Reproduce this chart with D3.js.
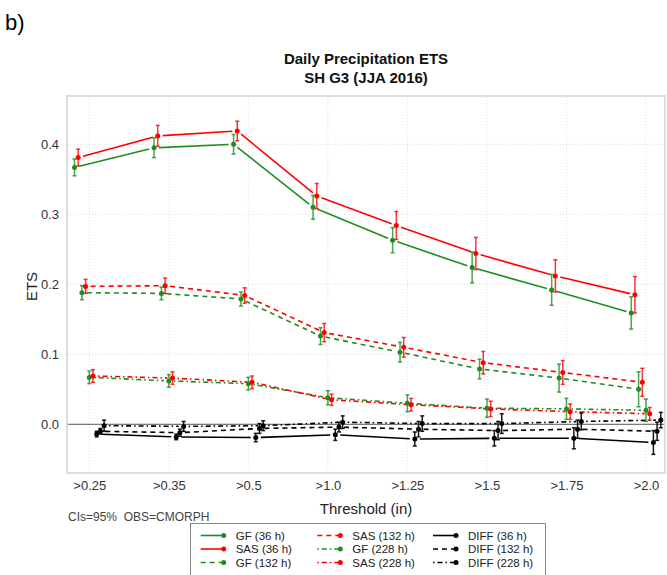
<!DOCTYPE html>
<html>
<head>
<meta charset="utf-8">
<script src="https://cdn.jsdelivr.net/npm/d3@7"></script>
<style>
  html, body { margin: 0; padding: 0; background: #fff; }
  svg { display: block; font-family: "Liberation Sans", Arial, Helvetica, sans-serif; }
</style>
</head>
<body>
<svg id="chart" width="667" height="575"></svg>
<script>
// Thresholds (in)
const categories = [">0.25", ">0.35", ">0.5", ">1.0", ">1.25", ">1.5", ">1.75", ">2.0"];
const yTicks = [0.0, 0.1, 0.2, 0.3, 0.4];

// ETS per threshold
const gf36    = [0.367, 0.395, 0.400, 0.310, 0.263, 0.224, 0.192, 0.159];
const sas36   = [0.381, 0.412, 0.419, 0.326, 0.284, 0.244, 0.212, 0.185];
const gf132   = [0.188, 0.187, 0.179, 0.126, 0.103, 0.079, 0.066, 0.050];
const sas132  = [0.197, 0.198, 0.184, 0.131, 0.110, 0.088, 0.074, 0.060];
const gf228   = [0.067, 0.062, 0.058, 0.038, 0.030, 0.023, 0.022, 0.020];
const sas228  = [0.069, 0.066, 0.060, 0.035, 0.028, 0.022, 0.018, 0.015];
const diff36  = [-0.014, -0.018, -0.019, -0.015, -0.021, -0.020, -0.020, -0.026];
const diff132 = [-0.010, -0.012, -0.006, -0.004, -0.007, -0.009, -0.007, -0.010];
const diff228 = [-0.002, -0.003, -0.002, 0.003, 0.001, 0.001, 0.004, 0.006];

// 95% confidence half-widths
const ci_gf36    = [0.012, 0.014, 0.014, 0.017, 0.018, 0.022, 0.022, 0.023];
const ci_sas36   = [0.012, 0.015, 0.014, 0.018, 0.020, 0.023, 0.023, 0.026];
const ci_gf132   = [0.010, 0.009, 0.010, 0.012, 0.014, 0.014, 0.020, 0.025];
const ci_sas132  = [0.010, 0.011, 0.011, 0.013, 0.014, 0.016, 0.017, 0.020];
const ci_gf228   = [0.009, 0.009, 0.009, 0.010, 0.012, 0.013, 0.015, 0.016];
const ci_sas228  = [0.009, 0.009, 0.009, 0.008, 0.009, 0.011, 0.011, 0.009];
const ci_diff36  = [0.004, 0.004, 0.006, 0.008, 0.010, 0.011, 0.015, 0.017];
const ci_diff132 = [0.004, 0.005, 0.007, 0.007, 0.011, 0.013, 0.013, 0.013];
const ci_diff228 = [0.008, 0.007, 0.007, 0.009, 0.011, 0.014, 0.012, 0.011];

const GREEN = "#1f8c1f", RED = "#ff0000", BLACK = "#000000";
const DASH = { solid: null, dashed: "5,4", dotdash: "1.5,3,5,3" };

const series = [
  { name: "GF (36 h)",    values: gf36,    ci: ci_gf36,    color: GREEN, dash: DASH.solid },
  { name: "SAS (36 h)",   values: sas36,   ci: ci_sas36,   color: RED,   dash: DASH.solid },
  { name: "GF (132 h)",   values: gf132,   ci: ci_gf132,   color: GREEN, dash: DASH.dashed },
  { name: "SAS (132 h)",  values: sas132,  ci: ci_sas132,  color: RED,   dash: DASH.dashed },
  { name: "GF (228 h)",   values: gf228,   ci: ci_gf228,   color: GREEN, dash: DASH.dotdash },
  { name: "SAS (228 h)",  values: sas228,  ci: ci_sas228,  color: RED,   dash: DASH.dotdash },
  { name: "DIFF (36 h)",  values: diff36,  ci: ci_diff36,  color: BLACK, dash: DASH.solid },
  { name: "DIFF (132 h)", values: diff132, ci: ci_diff132, color: BLACK, dash: DASH.dashed },
  { name: "DIFF (228 h)", values: diff228, ci: ci_diff228, color: BLACK, dash: DASH.dotdash }
];

const svg = d3.select("#chart");
const panel = { left: 67, right: 665, top: 96, bottom: 473 };

const x = d3.scalePoint().domain(categories).range([89.3, 646]);
const y = d3.scaleLinear().domain([-0.0696, 0.469]).range([panel.bottom, panel.top]);
const dodge = 3.7;
const xs = (i, k) => x(categories[k]) + (i - (series.length - 1) / 2) * dodge;

// panel frame
svg.append("rect")
  .attr("x", panel.left).attr("y", panel.top)
  .attr("width", panel.right - panel.left).attr("height", panel.bottom - panel.top)
  .attr("fill", "#fff").attr("stroke", "#dcdcdc").attr("stroke-width", 2);

// dotted grid
const grid = svg.append("g").attr("stroke", "#dedede").attr("stroke-width", 1)
  .attr("stroke-dasharray", "1,2");
grid.selectAll("line.v").data(categories).join("line").attr("class", "v")
  .attr("x1", d => x(d)).attr("x2", d => x(d))
  .attr("y1", panel.top + 1).attr("y2", panel.bottom - 1);
grid.selectAll("line.h").data(yTicks.filter(t => t !== 0)).join("line").attr("class", "h")
  .attr("y1", d => y(d)).attr("y2", d => y(d))
  .attr("x1", panel.left + 1).attr("x2", panel.right - 1);

// zero reference
svg.append("line")
  .attr("x1", panel.left + 1).attr("x2", panel.right - 1)
  .attr("y1", y(0)).attr("y2", y(0))
  .attr("stroke", "#555").attr("stroke-width", 1);

// axes (labels only)
const yAxis = d3.axisLeft(y).tickValues(yTicks).tickFormat(d3.format(".1f")).tickSize(0).tickPadding(8);
const gy = svg.append("g").attr("transform", `translate(${panel.left},0)`).call(yAxis);
gy.select(".domain").remove();
gy.selectAll("text").attr("font-size", 13).attr("fill", "#333")
  .attr("font-family", "Liberation Sans, Arial, sans-serif");

const xAxis = d3.axisBottom(x).tickSize(0).tickPadding(8);
const gx = svg.append("g").attr("transform", `translate(0,${panel.bottom})`).call(xAxis);
gx.select(".domain").remove();
gx.selectAll("text").attr("font-size", 13).attr("fill", "#333")
  .attr("font-family", "Liberation Sans, Arial, sans-serif");

// series: connecting segments with gaps around the points
const GAP = 5;
const lines = svg.append("g");
series.forEach((s, i) => {
  const g = lines.append("g").attr("stroke", s.color).attr("stroke-width", 1.6)
    .attr("fill", "none");
  if (s.dash) g.attr("stroke-dasharray", s.dash);
  const segs = d3.pairs(s.values.map((v, k) => [xs(i, k), y(v)]));
  g.selectAll("line").data(segs).join("line")
    .each(function ([a, b]) {
      const dx = b[0] - a[0], dy = b[1] - a[1];
      const len = Math.hypot(dx, dy);
      const ux = dx / len, uy = dy / len;
      d3.select(this)
        .attr("x1", a[0] + ux * GAP).attr("y1", a[1] + uy * GAP)
        .attr("x2", b[0] - ux * GAP).attr("y2", b[1] - uy * GAP);
    });
});

// confidence bars
const bars = svg.append("g");
series.forEach((s, i) => {
  const g = bars.append("g").attr("stroke", s.color).attr("stroke-width", 1.5)
    .attr("stroke-opacity", s.color === BLACK ? 0.9 : 0.8);
  s.values.forEach((v, k) => {
    const cx = xs(i, k), lo = y(v - s.ci[k]), hi = y(v + s.ci[k]);
    g.append("line").attr("x1", cx).attr("x2", cx).attr("y1", lo).attr("y2", hi);
    g.append("line").attr("x1", cx - 2).attr("x2", cx + 2).attr("y1", lo).attr("y2", lo);
    g.append("line").attr("x1", cx - 2).attr("x2", cx + 2).attr("y1", hi).attr("y2", hi);
  });
});

// points
const pts = svg.append("g");
series.forEach((s, i) => {
  pts.append("g").selectAll("circle").data(s.values).join("circle")
    .attr("cx", (v, k) => xs(i, k)).attr("cy", v => y(v))
    .attr("r", 2.5).attr("fill", s.color);
});

// titles
svg.append("text").attr("x", 5).attr("y", 30).attr("font-size", 22).attr("fill", "#000").text("b)");
const title = svg.append("text").attr("text-anchor", "middle").attr("font-weight", "bold")
  .attr("font-size", 15).attr("fill", "#111");
title.append("tspan").attr("x", 366).attr("y", 64).text("Daily Precipitation ETS");
title.append("tspan").attr("x", 366).attr("y", 83).text("SH G3 (JJA 2016)");

svg.append("text").attr("transform", `translate(37,${(panel.top + panel.bottom) / 2 + 2}) rotate(-90)`)
  .attr("text-anchor", "middle").attr("font-size", 15).attr("fill", "#222").text("ETS");
svg.append("text").attr("x", 366).attr("y", 514).attr("text-anchor", "middle")
  .attr("font-size", 15).attr("fill", "#222").text("Threshold (in)");
svg.append("text").attr("x", 68).attr("y", 521).attr("font-size", 12).attr("fill", "#444")
  .attr("xml:space", "preserve").text("CIs=95%  OBS=CMORPH");

// legend
const legend = svg.append("g");
legend.append("rect").attr("x", 190.5).attr("y", 523.5).attr("width", 355).attr("height", 70)
  .attr("fill", "#fff").attr("stroke", "#888").attr("stroke-width", 1);
const colX = [200.7, 317.3, 433];
const rowY = [535.5, 549, 562.5];
series.forEach((s, i) => {
  const c = Math.floor(i / 3), r = i % 3;
  const lx = colX[c], ly = rowY[r];
  const l = legend.append("line").attr("x1", lx).attr("x2", lx + 23).attr("y1", ly).attr("y2", ly)
    .attr("stroke", s.color).attr("stroke-width", 1.6);
  if (s.dash) l.attr("stroke-dasharray", s.dash);
  legend.append("circle").attr("cx", lx + 23).attr("cy", ly).attr("r", 2.5).attr("fill", s.color);
  legend.append("text").attr("x", lx + 35).attr("y", ly + 4).attr("font-size", 11.5)
    .attr("fill", "#222").text(s.name);
});
</script>
</body>
</html>
